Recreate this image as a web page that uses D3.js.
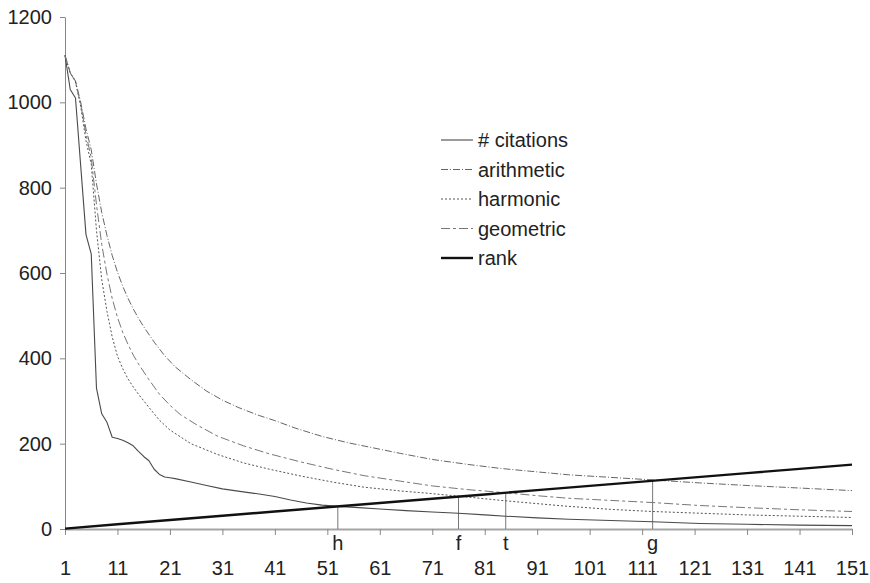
<!DOCTYPE html>
<html>
<head>
<meta charset="utf-8">
<script src="https://cdn.jsdelivr.net/npm/d3@7"></script>
<style>
  body { margin: 0; background: #fff; }
  svg { font-family: Arial, "Liberation Sans", sans-serif; }
</style>
</head>
<body>
<svg width="870" height="583"></svg>
<script>
// values
let citeX = [1, 2, 3, 4, 5, 6, 7, 8, 9, 10, 11, 12, 13, 14, 15, 16, 17, 18, 19, 20, 21, 22, 25, 28, 31, 35, 38, 41, 44, 47, 50, 53, 57, 61, 66, 71, 76, 81, 85, 91, 97, 105, 113, 122, 131, 141, 151],
    citeY = [1110, 1030, 1010, 850, 690, 645, 330, 270, 250, 215, 212, 208, 202, 195, 182, 170, 160, 140, 128, 122, 120, 118, 110, 102, 94, 87, 82, 76, 68, 61, 56, 53, 50, 47, 43, 40, 37, 33, 30, 26, 23, 20, 17, 13, 11, 9, 8];

let arithX = [1, 2, 3, 4, 5, 6, 7, 8, 9, 10, 11, 12, 13, 14, 15, 16, 18, 20, 22, 25, 28, 31, 34, 38, 41, 45, 50, 55, 59, 65, 71, 78, 84, 90, 97, 105, 113, 122, 131, 141, 151],
    arithY = [1110, 1070, 1050, 1000, 938, 889, 809, 742, 688, 641, 602, 569, 541, 516, 494, 474, 438, 406, 380, 350, 323, 302, 285, 266, 254, 236, 217, 202, 192, 177, 163, 151, 142, 135, 127, 121, 115, 108, 102, 96, 90];

let harmX = [1, 2, 3, 4, 5, 6, 7, 8, 9, 10, 11, 12, 13, 14, 15, 17, 19, 21, 25, 30, 35, 40, 46, 52, 58, 65, 70, 76, 85, 96, 105, 113, 122, 131, 141, 151],
    harmY = [1110, 1068, 1048, 990, 910, 855, 700, 585, 510, 450, 405, 376, 352, 333, 316, 285, 255, 232, 200, 175, 155, 140, 124, 110, 98, 89, 84, 77, 66, 54, 46, 41, 37, 33, 30, 27];

let geoX = [1, 2, 3, 4, 5, 6, 7, 8, 9, 10, 11, 12, 13, 14, 15, 17, 19, 21, 23, 26, 30, 35, 40, 46, 52, 58, 65, 71, 78, 85, 91, 97, 105, 113, 122, 131, 141, 151],
    geoY = [1110, 1069, 1049, 995, 925, 870, 760, 667, 597, 540, 496, 461, 433, 408, 387, 350, 316, 290, 268, 245, 218, 195, 176, 157, 140, 125, 112, 101, 92, 85, 78, 72, 67, 62, 55, 50, 45, 41];

let rankX = [1, 11, 21, 31, 41, 51, 61, 71, 81, 91, 101, 111, 121, 131, 141, 151],
    rankY = [1, 11, 21, 31, 41, 51, 61, 71, 81, 91, 101, 111, 121, 131, 141, 151];

let markerNames = ['h', 'f', 't', 'g'],
    markerX = [53, 76, 85, 113];

let xTicks = [1, 11, 21, 31, 41, 51, 61, 71, 81, 91, 101, 111, 121, 131, 141, 151],
    yTicks = [0, 200, 400, 600, 800, 1000, 1200];

let seriesNames = ['# citations', 'arithmetic', 'harmonic', 'geometric', 'rank'];

let zip = (xs, ys) => xs.map((x, i) => ({x: x, y: ys[i]}));

let series = [
    {name: seriesNames[0], pts: zip(citeX, citeY), stroke: '#4a4a4a', width: 1.1, dash: null},
    {name: seriesNames[1], pts: zip(arithX, arithY), stroke: '#666', width: 1, dash: '7,2,1,2'},
    {name: seriesNames[2], pts: zip(harmX, harmY), stroke: '#555', width: 1, dash: '2,2'},
    {name: seriesNames[3], pts: zip(geoX, geoY), stroke: '#777', width: 1, dash: '9,3,3,3'},
    {name: seriesNames[4], pts: zip(rankX, rankY), stroke: '#111', width: 2.4, dash: null}
];

let svg = d3.select('svg');

let xScale = d3.scaleLinear().domain([1, 151]).range([65, 852]),
    yScale = d3.scaleLinear().domain([0, 1200]).range([529, 17]);

// y axis
let yAxis = svg.append('g')
    .attr('transform', `translate(${xScale(1)},0)`)
    .call(d3.axisLeft(yScale).tickValues(yTicks).tickFormat(d3.format('d'))
        .tickSize(5).tickSizeOuter(0).tickPadding(8));
yAxis.select('.domain').attr('stroke', '#888');
yAxis.selectAll('line').attr('stroke', '#888');
yAxis.selectAll('text').style('font-size', '20px').attr('fill', '#222');

// x axis
let xAxis = svg.append('g')
    .attr('transform', `translate(0,${yScale(0)})`)
    .call(d3.axisBottom(xScale).tickValues(xTicks).tickFormat(d3.format('d'))
        .tickSize(6).tickSizeOuter(0).tickPadding(26));
xAxis.select('.domain').attr('stroke', '#a5a5a5').attr('stroke-width', 2);
xAxis.selectAll('line').attr('stroke', '#888');
xAxis.selectAll('text').style('font-size', '20px').attr('fill', '#222');

// vertical marker lines, from axis up to the rank line
let markers = svg.append('g');
markers.selectAll('line')
    .data(markerX)
    .enter()
    .append('line')
    .attr('x1', d => xScale(d))
    .attr('x2', d => xScale(d))
    .attr('y1', yScale(0))
    .attr('y2', d => yScale(d))
    .attr('stroke', '#777')
    .attr('stroke-width', 1);

markers.selectAll('text')
    .data(markerX)
    .enter()
    .append('text')
    .attr('x', d => xScale(d))
    .attr('y', 550)
    .attr('text-anchor', 'middle')
    .style('font-size', '20px')
    .attr('fill', '#222')
    .text((d, i) => markerNames[i]);

let line = d3.line()
    .x(p => xScale(p.x))
    .y(p => yScale(p.y));

svg.append('g')
    .selectAll('path')
    .data(series)
    .enter()
    .append('path')
    .attr('d', s => line(s.pts))
    .attr('fill', 'none')
    .attr('stroke', s => s.stroke)
    .attr('stroke-width', s => s.width)
    .attr('stroke-dasharray', s => s.dash)
    .attr('stroke-linejoin', 'round');

// legend
let legend = svg.selectAll('.legend')
    .data(series)
    .enter()
    .append('g')
    .attr('class', 'legend')
    .attr('transform', (d, i) => `translate(441,${140 + i * 29.5})`);

legend.append('line')
    .attr('x1', 0)
    .attr('x2', 32)
    .attr('stroke', s => s.stroke)
    .attr('stroke-width', s => s.width)
    .attr('stroke-dasharray', s => s.dash);

legend.append('text')
    .attr('x', 37)
    .attr('dy', '0.35em')
    .style('font-size', '20px')
    .attr('fill', '#222')
    .text(s => s.name);
</script>
</body>
</html>
